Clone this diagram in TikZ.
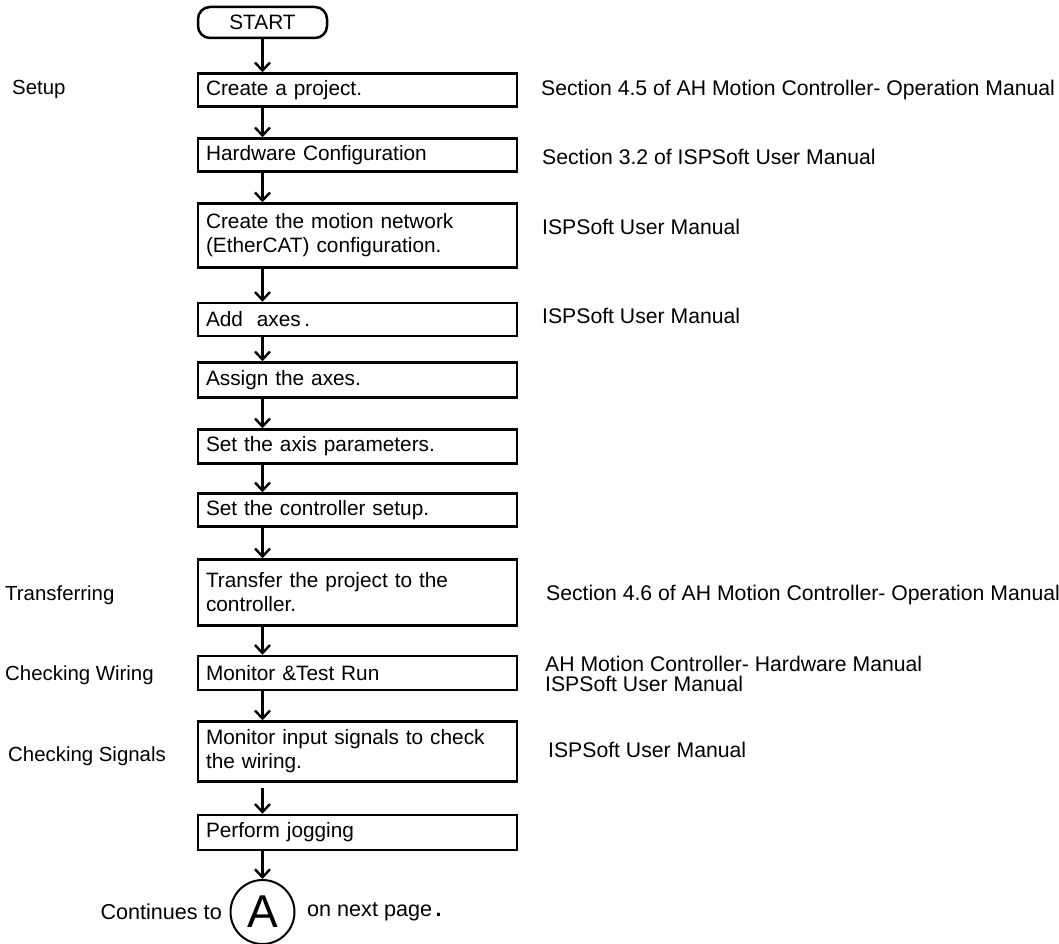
\documentclass[tikz,border=0pt]{standalone}
\usepackage{fontspec}
\setmainfont{Liberation Sans}
\usetikzlibrary{positioning,arrows.meta}

\begin{document}
\begin{tikzpicture}[x=1pt,y=-1pt,
  txt/.style={font=\fontsize{20.8}{24}\selectfont},
  stepbox/.style={txt,draw,line width=2.5pt,text width=303pt,inner xsep=8pt,inner ysep=0pt,align=left,minimum height=33pt},
  startbox/.style={txt,draw,line width=2.5pt,rounded corners=12pt,minimum width=129pt,minimum height=31pt,inner sep=0pt},
  flow/.style={line width=2.8pt,-{Straight Barb[length=8pt,width=15pt,line width=2.4pt]}},
  side/.style={font=\fontsize{20.4}{24}\selectfont,anchor=west,inner sep=0pt},
  ref/.style={font=\fontsize{21.2}{20}\selectfont,anchor=west,inner sep=0pt,align=left}]
\useasboundingbox (0,0) rectangle (1059,944);

% Boxes
\node[startbox] (start) at (262.5,22.5) {START};
\node[stepbox] (create) at (357.5,90) {Create a project.};
\node[stepbox] (hardware) at (357.5,155) {Hardware Configuration};
\node[stepbox,minimum height=64pt] (network) at (357.5,235.5) {Create the motion network\\(EtherCAT) configuration.};
\node[stepbox] (addaxes) at (357.5,319.5) {Add\ \ axes\,.};
\node[stepbox,minimum height=35pt] (assign) at (357.5,380) {Assign the axes.};
\node[stepbox,minimum height=34pt] (params) at (357.5,446.5) {Set the axis parameters.};
\node[stepbox] (ctrlsetup) at (357.5,510) {Set the controller setup.};
\node[stepbox,minimum height=66pt] (transfer) at (357.5,592.5) {Transfer the project to the\\controller.};
\node[stepbox,minimum height=34pt] (monitor) at (357.5,673) {Monitor \&Test Run};
\node[stepbox,minimum height=60pt] (signals) at (357.5,751.5) {Monitor input signals to check\\the wiring.};
\node[stepbox,minimum height=35pt] (jogging) at (357.5,832.5) {Perform jogging};
\node[draw,circle,line width=2pt,minimum size=64pt,inner sep=0pt,font=\fontsize{46}{46}\selectfont] (contA) at (262.5,912) {A};
\node[font=\fontsize{21.6}{24}\selectfont,anchor=east,inner sep=0pt] (contL) at (222,912) {Continues to};
\node[font=\fontsize{21.6}{24}\selectfont,anchor=west,inner sep=0pt] (contR) at (307,912) {on next page\,\textbf{.}};

% Stages
\node[side] (lsetup) at (12,89) {Setup};
\node[side] (ltransfer) at (5,595) {Transferring};
\node[side] (lwiring) at (5,675) {Checking Wiring};
\node[side] (lsignals) at (8,756) {Checking Signals};

% Manuals
\node[ref] (rcreate) at (541,90) {Section 4.5 of AH Motion Controller- Operation Manual};
\node[ref] (rhardware) at (542,157) {Section 3.2 of ISPSoft User Manual};
\node[ref] (rnetwork) at (542,227) {ISPSoft User Manual};
\node[ref] (raxes) at (542,316) {ISPSoft User Manual};
\node[ref] (rtransfer) at (546,595) {Section 4.6 of AH Motion Controller- Operation Manual};
\node[ref] (rmonitor) at (545,674) {AH Motion Controller- Hardware Manual\\ISPSoft User Manual};
\node[ref] (rsignals) at (548,750) {ISPSoft User Manual};

% Lines
\draw[flow] (start.south) -- (create.north -| start);
\draw[flow] (create.south -| start) -- (hardware.north -| start);
\draw[flow] (hardware.south -| start) -- (network.north -| start);
\draw[flow] (network.south -| start) -- (addaxes.north -| start);
\draw[flow] (addaxes.south -| start) -- (assign.north -| start);
\draw[flow] (assign.south -| start) -- (params.north -| start);
\draw[flow] (params.south -| start) -- (ctrlsetup.north -| start);
\draw[flow] (ctrlsetup.south -| start) -- (transfer.north -| start);
\draw[flow] (transfer.south -| start) -- (monitor.north -| start);
\draw[flow] (monitor.south -| start) -- (signals.north -| start);
\draw[flow] (signals.south -| start) ++(0,5) -- (jogging.north -| start);
\draw[flow] (jogging.south -| contA) -- (contA.north);

\end{tikzpicture}
\end{document}
